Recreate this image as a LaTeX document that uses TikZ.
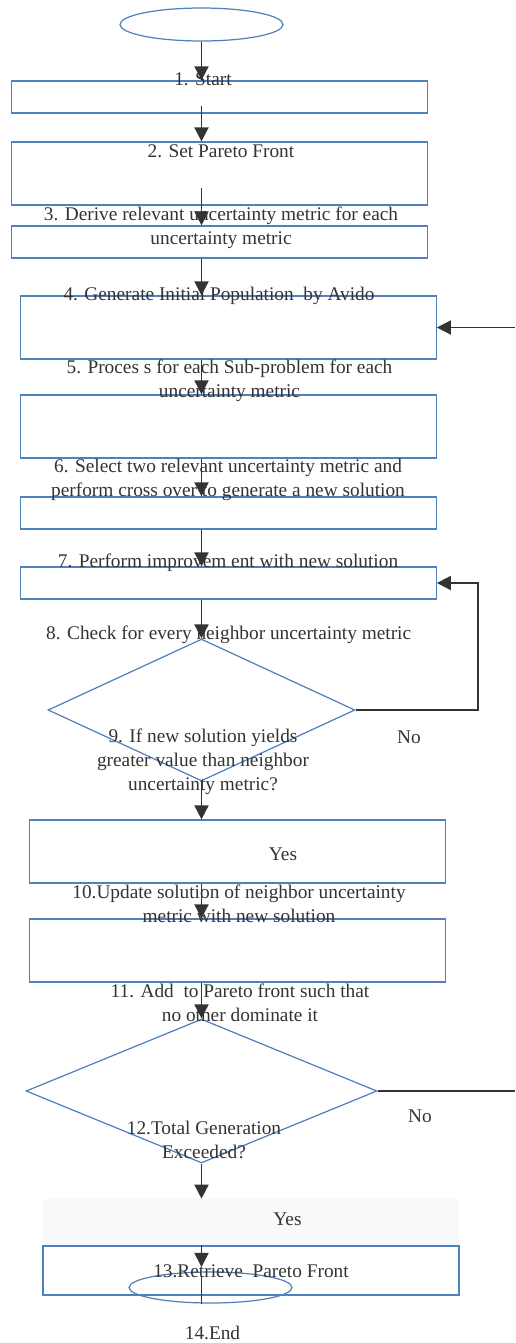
\documentclass[tikz,border=0pt]{standalone}
\usepackage{fontspec}
\setmainfont{Liberation Serif}
\usetikzlibrary{shapes.geometric, arrows.meta, calc}
\definecolor{flowblue}{RGB}{79, 129, 189}
\definecolor{inkgray}{RGB}{51, 51, 51}
\definecolor{paleback}{RGB}{248, 249, 251}

\begin{document}
\begin{tikzpicture}[
    x=0.02cm, y=-0.02cm,
    box/.style={rectangle, draw=flowblue, line width=0.7pt, minimum width=8.32cm, minimum height=0.64cm, inner sep=0pt},
    tallbox/.style={box, minimum height=1.26cm},
    decision/.style={diamond, draw=flowblue, line width=0.7pt, inner sep=0pt},
    terminal/.style={ellipse, draw=flowblue, line width=0.7pt, minimum width=3.26cm, inner sep=0pt},
    txt/.style={text=inkgray, align=center, inner sep=0pt, font=\fontsize{11}{13.6}\selectfont},
    arrow/.style={-{Triangle[width=8pt, length=8pt]}, line width=1pt, draw=inkgray},
    link/.style={line width=1pt, draw=inkgray}
]
    \useasboundingbox (0, 0) rectangle (515, 1343);

    % shapes
    \node[terminal, minimum height=0.66cm] (startoval) at (201.5, 24.5) {};
    \node[box] (b1) at (219.5, 97) {};
    \node[tallbox] (b2) at (219.5, 173.5) {};
    \node[box] (b3) at (219.5, 242) {};
    \node[tallbox] (b4) at (228.3, 327.5) {};
    \node[tallbox] (b5) at (228.3, 426.5) {};
    \node[box] (b6) at (228.3, 513) {};
    \node[box] (b7) at (228.3, 583) {};
    \node[decision, minimum width=6.14cm, minimum height=2.84cm] (d1) at (201.5, 710) {};
    \node[tallbox] (b8) at (237.5, 851.5) {};
    \node[tallbox] (b9) at (237.5, 950.5) {};
    \node[decision, minimum width=7.02cm, minimum height=2.88cm] (d2) at (201.5, 1091) {};
    \node[rectangle, fill=paleback, minimum width=8.32cm, minimum height=0.92cm, inner sep=0pt] (yesbg) at (251, 1222) {};
    \node[box, line width=1.2pt, minimum height=0.98cm] (b13) at (251.3, 1270.5) {};
    \node[terminal, minimum height=0.62cm] (endoval) at (210.5, 1287.5) {};

    % texts
    \node[txt] (t1) at (203, 79) {1. Start};
    \node[txt] (t2) at (221, 151) {2. Set Pareto Front};
    \node[txt] (t3) at (221, 228) {3. Derive relevant uncertainty metric for each\\uncertainty metric};
    \node[txt] (t4) at (219, 296) {4. Generate Initial Population\ \ by Avido};
    \node[txt] (t5) at (229.5, 380.5) {5. Proces s for each Sub-problem for each\\uncertainty metric};
    \node[txt] (t6) at (228, 480) {6. Select two relevant uncertainty metric and\\perform cross over to generate a new solution};
    \node[txt] (t7) at (228, 563) {7. Perform improvem ent with new solution};
    \node[txt] (t8) at (228.7, 635) {8. Check for every neighbor uncertainty metric};
    \node[txt] (t9) at (203, 762) {9. If new solution yields\\greater value than neighbor\\uncertainty metric?};
    \node[txt] (no1) at (409, 737) {No};
    \node[txt] (yes1) at (283, 854) {Yes};
    \node[txt] (t10) at (239, 903.5) {10.Update solution of neighbor uncertainty\\metric with new solution};
    \node[txt] (t11) at (240, 1003) {11. Add\ \ to Pareto front such that\\no other dominate it};
    \node[txt] (no2) at (420, 1116) {No};
    \node[txt] (t12) at (204, 1140) {12.Total Generation\\Exceeded?};
    \node[txt] (yes2) at (287.5, 1219) {Yes};
    \node[txt] (t13) at (251, 1271) {13.Retrieve\ \ Pareto Front};
    \node[txt] (t14) at (212.5, 1333) {14.End};

    % connectors
    \coordinate (s2) at (201.5, 106);
    \coordinate (s3) at (201.5, 188);
    \coordinate (e13) at (201.5, 1267);
    \coordinate (s14) at (201.5, 1277);
    \coordinate (rx) at (478, 0);
    \coordinate (edge4) at (515, 327.5);
    \coordinate (edge12) at (515, 1091);

    \draw[arrow] (startoval) -- (b1.north -| startoval);
    \draw[arrow] (s2) -- (b2.north -| startoval);
    \draw[arrow] (s3) -- (b3.north -| startoval);
    \draw[arrow] (b3.south -| startoval) -- (b4.north -| startoval);
    \draw[arrow] (b4.south -| startoval) -- (b5.north -| startoval);
    \draw[arrow] (b5.south -| startoval) -- (b6.north -| startoval);
    \draw[arrow] (b6.south -| startoval) -- (b7.north -| startoval);
    \draw[arrow] (b7.south -| startoval) -- (d1);
    \draw[arrow] (d1) -- (b8.north -| startoval);
    \draw[arrow] (b8.south -| startoval) -- (b9.north -| startoval);
    \draw[arrow] (b9.south -| startoval) -- (d2);
    \draw[arrow] (d2) -- (yesbg.north -| startoval);
    \draw[arrow] (b13.north -| startoval) -- (e13);
    \draw[link] (s14) -- (endoval.south -| startoval);
    \draw[arrow] (d1.east) -- (d1.east -| rx) |- (b7.east);
    \draw[link] (d2.east) -- (edge12);
    \draw[arrow] (edge4) -- (b4.east);
\end{tikzpicture}
\end{document}
